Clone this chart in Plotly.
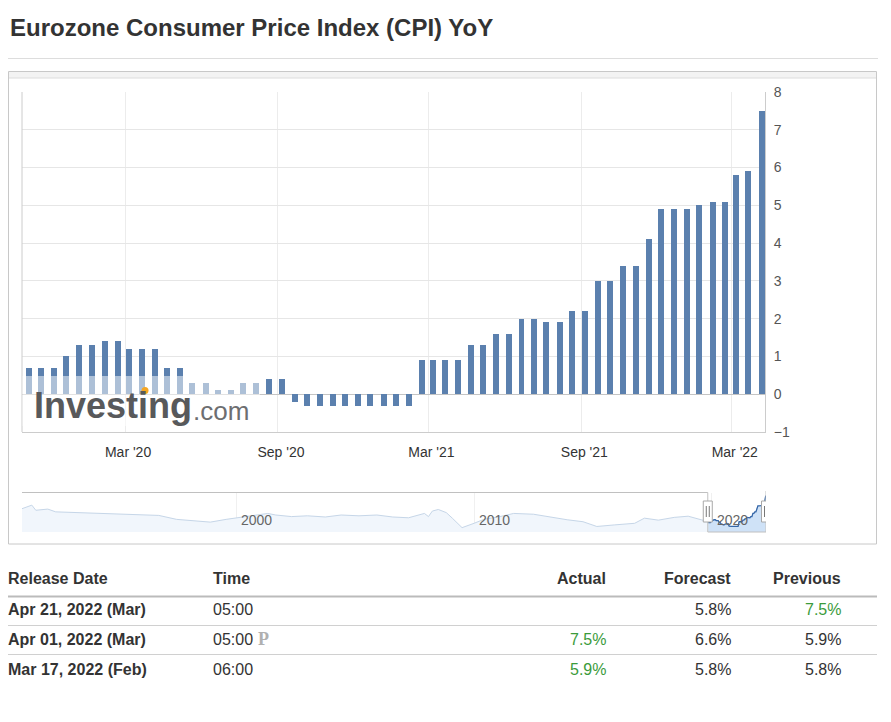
import plotly.graph_objects as go

W, H = 891, 722
FONT = "Liberation Sans, Arial, sans-serif"

# ---------------- data ----------------
bar_dates = [
    "2019-11-06", "2019-11-21", "2019-12-06", "2019-12-21", "2020-01-06", "2020-01-21",
    "2020-02-06", "2020-02-21", "2020-03-06", "2020-03-21", "2020-04-06", "2020-04-21",
    "2020-05-06", "2020-05-21", "2020-06-06", "2020-06-21", "2020-07-06", "2020-07-21",
    "2020-08-06", "2020-08-21", "2020-09-06", "2020-09-21", "2020-10-06", "2020-10-21",
    "2020-11-06", "2020-11-21", "2020-12-06", "2020-12-21", "2021-01-06", "2021-01-21",
    "2021-02-06", "2021-02-21", "2021-03-06", "2021-03-21", "2021-04-06", "2021-04-21",
    "2021-05-06", "2021-05-21", "2021-06-06", "2021-06-21", "2021-07-06", "2021-07-21",
    "2021-08-06", "2021-08-21", "2021-09-06", "2021-09-21", "2021-10-06", "2021-10-21",
    "2021-11-06", "2021-11-21", "2021-12-06", "2021-12-21", "2022-01-06", "2022-01-21",
    "2022-02-06", "2022-02-21", "2022-03-06", "2022-03-21", "2022-04-06",
]
bar_values = [
    0.7, 0.7, 0.7, 1.0, 1.3, 1.3,
    1.4, 1.4, 1.2, 1.2, 1.2, 0.7,
    0.7, 0.3, 0.3, 0.1, 0.1, 0.3,
    0.3, 0.4, 0.4, -0.2, -0.3, -0.3,
    -0.3, -0.3, -0.3, -0.3, -0.3, -0.3,
    -0.3, 0.9, 0.9, 0.9, 0.9, 1.3,
    1.3, 1.6, 1.6, 2.0, 2.0, 1.9,
    1.9, 2.2, 2.2, 3.0, 3.0, 3.4,
    3.4, 4.1, 4.9, 4.9, 4.9, 5.0,
    5.1, 5.1, 5.8, 5.9, 7.5,
]

# long history shown in the navigator (before the selected window)
hist_dates = [
    "1991-01-01", "1991-06-01", "1991-08-01", "1992-02-01", "1992-06-01", "1993-04-01",
    "1994-01-01", "1994-09-01", "1996-01-01", "1996-10-01", "1997-07-01", "1998-03-01",
    "1998-12-01", "1999-08-01", "2000-03-01", "2001-05-01", "2001-09-01", "2002-05-01",
    "2003-01-01", "2003-10-01", "2004-06-01", "2005-03-01", "2005-12-01", "2006-08-01",
    "2007-04-01", "2007-12-01", "2008-02-01", "2008-04-01", "2008-07-01", "2008-11-01",
    "2009-02-01", "2009-07-01", "2010-01-01", "2010-06-01", "2011-02-01", "2011-09-01",
    "2012-07-01", "2013-04-01", "2013-12-01", "2014-08-01", "2015-03-01", "2015-12-01",
    "2016-10-01", "2017-03-01", "2017-10-01", "2018-06-01", "2019-01-01", "2019-09-01",
]
hist_values = [
    4.2, 5.1, 3.8, 4.1, 3.4, 3.2,
    3.2, 2.9, 2.6, 2.5, 1.5, 1.2,
    0.8, 1.5, 2.0, 3.0, 2.6, 2.2,
    2.4, 2.1, 2.6, 2.4, 2.6, 2.1,
    1.9, 3.0, 2.2, 3.6, 4.0, 3.2,
    1.8, -0.6, 0.5, 1.5, 2.2, 3.0,
    2.8, 2.0, 1.4, 0.9, -0.3, 0.1,
    0.5, 1.8, 1.3, 2.0, 2.3, 1.2,
]

x_tick_vals = ["2020-03-01", "2020-09-01", "2021-03-01", "2021-09-01", "2022-03-01"]
x_tick_text = ["Mar '20", "Sep '20", "Mar '21", "Sep '21", "Mar '22"]
nav_tick_vals = ["2000-01-01", "2010-01-01", "2020-01-01"]
nav_tick_text = ["2000", "2010", "2020"]

main_range = ["2019-10-29", "2022-04-10"]
nav_range = ["1991-01-01", "2022-04-10"]
y_range = [-1, 8]
nav_y_range = [-1.7, 8.3]

table_header = ["Release Date", "Time", "Actual", "Forecast", "Previous"]
table_rows = [
    ["Apr 21, 2022 (Mar)", "05:00", "", "5.8%", "7.5%"],
    ["Apr 01, 2022 (Mar)", "05:00", "7.5%", "6.6%", "5.9%"],
    ["Mar 17, 2022 (Feb)", "06:00", "5.9%", "5.8%", "5.8%"],
]
table_green = [
    [False, False, False, False, True],
    [False, False, True, False, False],
    [False, False, True, False, False],
]
table_prelim = [False, True, False]

# ---------------- styles ----------------
BAR = "#5b80ae"
GREEN = "#3b9b3b"
TXT = "#333333"
BAR_WIDTH_DAYS = 7.2


def px(x):
    return x / W


def py(y):
    return 1 - y / H


fig = go.Figure()

fig.add_trace(go.Bar(
    x=bar_dates, y=bar_values, xaxis="x", yaxis="y",
    marker=dict(color=BAR, line=dict(width=0)),
    width=BAR_WIDTH_DAYS * 86400000, hoverinfo="x+y", showlegend=False,
))

# navigator: full history (light)
nav_x = hist_dates + bar_dates
nav_y = hist_values + bar_values
fig.add_trace(go.Scatter(
    x=[nav_range[0], nav_range[1]], y=[nav_y_range[0], nav_y_range[0]],
    xaxis="x2", yaxis="y2", mode="lines", line=dict(width=0),
    hoverinfo="skip", showlegend=False,
))
fig.add_trace(go.Scatter(
    x=nav_x, y=nav_y, xaxis="x2", yaxis="y2", mode="lines",
    line=dict(color="#c6d6e8", width=1), fill="tonexty", fillcolor="#f1f6fc",
    hoverinfo="skip", showlegend=False,
))
# navigator: selected window (darker)
fig.add_trace(go.Scatter(
    x=[bar_dates[0], bar_dates[-1]], y=[nav_y_range[0], nav_y_range[0]],
    xaxis="x2", yaxis="y2", mode="lines", line=dict(width=0),
    hoverinfo="skip", showlegend=False,
))
fig.add_trace(go.Scatter(
    x=bar_dates, y=bar_values, xaxis="x2", yaxis="y2", mode="lines",
    line=dict(color="#3567a8", width=1.3), fill="tonexty", fillcolor="#cfe2f7",
    hoverinfo="skip", showlegend=False,
))

shapes = []


def hline(x0, x1, y, color, width=1):
    shapes.append(dict(type="line", xref="paper", yref="paper", x0=px(x0), x1=px(x1),
                       y0=py(y), y1=py(y), line=dict(color=color, width=width)))


def vline(x, y0, y1, color, width=1):
    shapes.append(dict(type="line", xref="paper", yref="paper", x0=px(x), x1=px(x),
                       y0=py(y0), y1=py(y1), line=dict(color=color, width=width)))


# title separator
hline(8, 878, 58.5, "#dddddd")
# chart box with top shadow
shapes.append(dict(type="rect", xref="paper", yref="paper", x0=px(9), x1=px(876),
                   y0=py(78), y1=py(71.5), fillcolor="#f3f3f3", line=dict(width=0), layer="below"))
shapes.append(dict(type="rect", xref="paper", yref="paper", x0=px(8.5), x1=px(876.5),
                   y0=py(544), y1=py(71.5), line=dict(color="#c8c8c8", width=1)))
hline(9, 876, 78, "#dcdcdc")
# left border of the plot
vline(22, 92, 432, "#cccccc")
# watermark veil
shapes.append(dict(type="rect", xref="paper", yref="paper", x0=px(22.5), x1=px(260),
                   y0=py(426), y1=py(376), fillcolor="rgba(255,255,255,0.5)",
                   line=dict(width=0), layer="above"))
shapes.append(dict(type="circle", xref="paper", yref="paper", x0=px(141.5), x1=px(148.5),
                   y0=py(394), y1=py(387), fillcolor="#f6a623", line=dict(width=0), layer="above"))

# navigator outline
sel0, sel1 = main_range
shapes.append(dict(type="line", xref="x2", yref="paper", x0=nav_range[0], x1=sel0,
                   y0=py(492.5), y1=py(492.5), line=dict(color="#c0c0c0", width=1)))
shapes.append(dict(type="line", xref="x2", yref="paper", x0=sel0, x1=sel0,
                   y0=py(492.5), y1=py(532), line=dict(color="#c0c0c0", width=1)))
shapes.append(dict(type="line", xref="x2", yref="paper", x0=sel0, x1=sel1,
                   y0=py(532), y1=py(532), line=dict(color="#c0c0c0", width=1)))
shapes.append(dict(type="line", xref="x2", yref="paper", x0=sel1, x1=sel1,
                   y0=py(532), y1=py(491), line=dict(color="#c0c0c0", width=1)))
for s in (sel0, sel1):
    shapes.append(dict(type="rect", xref="x2", yref="paper", xsizemode="pixel", xanchor=s,
                       x0=-4.5, x1=4.5, y0=py(522), y1=py(501), fillcolor="#ffffff",
                       line=dict(color="#a8a8a8", width=1), layer="above"))
    for dx in (-1.5, 1.5):
        shapes.append(dict(type="line", xref="x2", yref="paper", xsizemode="pixel", xanchor=s,
                           x0=dx, x1=dx, y0=py(517), y1=py(506),
                           line=dict(color="#777777", width=1), layer="above"))

# table rules
hline(8, 877, 596.5, "#bbbbbb", 2)
hline(8, 877, 625.5, "#d0d0d0")
hline(8, 877, 654.5, "#d0d0d0")

annotations = []


def text(x, y, s, size, color=TXT, anchor="left", family=FONT):
    annotations.append(dict(xref="paper", yref="paper", x=px(x), y=py(y), text=s,
                            showarrow=False, xanchor=anchor, yanchor="middle",
                            font=dict(family=family, size=size, color=color)))


text(8, 28, "<b>Eurozone Consumer Price Index (CPI) YoY</b>", 24)

# watermark text
text(32, 406, "<b>Investing</b>", 36, "#58595b")
text(191, 411, ".com", 26, "#6d6e71")

# navigator labels
for v, t in zip(nav_tick_vals, nav_tick_text):
    annotations.append(dict(xref="x2", yref="paper", x=v, y=py(520), text=t, showarrow=False,
                            xanchor="left", yanchor="middle", xshift=3,
                            font=dict(family=FONT, size=14, color="#666666")))

# table
col_x = [6, 211, 608, 733, 843]
col_anchor = ["left", "left", "right", "right", "right"]
for i, h in enumerate(table_header):
    text(col_x[i], 578, "<b>%s</b>" % h, 16, TXT, col_anchor[i])
row_y = [609, 639, 669]
for r, row in enumerate(table_rows):
    for c, val in enumerate(row):
        if not val:
            continue
        s = "<b>%s</b>" % val if c == 0 else val
        col = GREEN if table_green[r][c] else TXT
        text(col_x[c], row_y[r], s, 16, col, col_anchor[c])
    if table_prelim[r]:
        text(256, row_y[r], "<b>P</b>", 18, "#b0b0b0", "left", "Liberation Serif, serif")

fig.update_layout(
    template="none",
    width=W, height=H, autosize=False,
    margin=dict(l=0, r=0, t=0, b=0, pad=0, autoexpand=False),
    paper_bgcolor="white", plot_bgcolor="white",
    font=dict(family=FONT, color=TXT),
    showlegend=False, bargap=0,
    shapes=shapes, annotations=annotations,
    xaxis=dict(domain=[px(22), px(765)], anchor="y", type="date", range=main_range,
               tickvals=x_tick_vals, ticktext=x_tick_text, showgrid=True, gridcolor="#ececec",
               gridwidth=1, showline=True, linecolor="#cccccc", linewidth=1, ticks="",
               zeroline=False, automargin=False, ticklabelshift=3,
               tickfont=dict(size=14, color=TXT), ticklabelstandoff=7, fixedrange=True),
    yaxis=dict(domain=[py(432), py(92)], anchor="x", side="right", range=y_range, dtick=1,
               showgrid=True, gridcolor="#e6e6e6", gridwidth=1, showline=True,
               linecolor="#cccccc", linewidth=1, automargin=False,
               zeroline=True, zerolinecolor="#c4c4c4", zerolinewidth=1, ticks="",
               tickfont=dict(size=14, color="#555555"), ticklabelstandoff=5, fixedrange=True),
    xaxis2=dict(domain=[px(22), px(766)], anchor="y2", type="date", range=nav_range,
                tickvals=nav_tick_vals, showticklabels=False, showgrid=True, automargin=False,
                gridcolor="#f0f0f0", zeroline=False, showline=False, ticks="", fixedrange=True),
    yaxis2=dict(domain=[py(532), py(492.5)], anchor="x2", range=nav_y_range, visible=False,
                automargin=False, fixedrange=True),
)

fig.write_html(
    "out.html",
    config={"displayModeBar": False, "responsive": False},
    post_script="document.body.style.margin='0';document.body.style.overflow='hidden';",
)
